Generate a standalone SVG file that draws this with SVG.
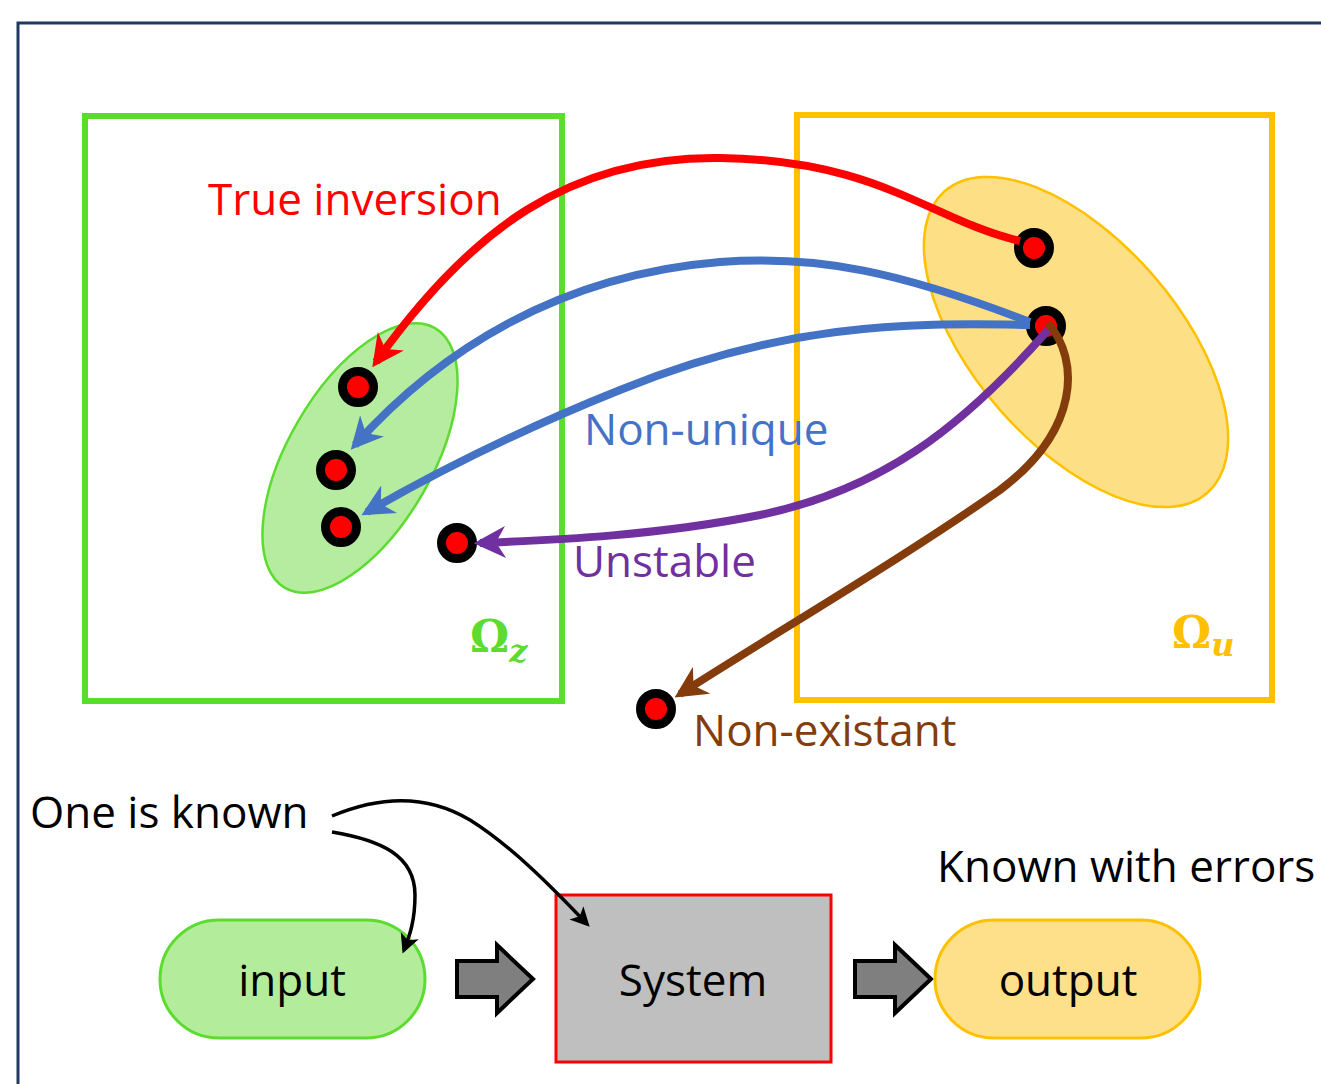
<svg xmlns="http://www.w3.org/2000/svg" width="1321" height="1084" viewBox="0 0 1321 1084">
<style>
text{font-family:"Open Sans","Liberation Sans",sans-serif}
.dot{fill:#ff0000;stroke:#000;stroke-width:9}
.lbl{font-size:44px}
.omega{font-family:"DejaVu Serif","Liberation Serif",serif;font-weight:bold;font-size:44px}
.bk{fill:none;stroke:#000;stroke-width:3.5}
</style>
<defs>
<marker id="ar" viewBox="0 0 10 10" refX="8" refY="5" markerWidth="4" markerHeight="4" orient="auto" markerUnits="strokeWidth"><path d="M0,0 L10,5 L0,10 L3,5 z" fill="context-stroke"/></marker>
<marker id="ab" viewBox="0 0 10 10" refX="8" refY="5" markerWidth="5.5" markerHeight="5.5" orient="auto" markerUnits="strokeWidth"><path d="M0,0 L10,5 L0,10 L2.5,5 z" fill="#000"/></marker>
</defs>
<rect x="18" y="23" width="1320" height="1100" fill="none" stroke="#1f3864" stroke-width="3"/>
<g id="omega-z">
<rect x="85" y="116" width="477" height="585" fill="none" stroke="#5bdc2f" stroke-width="6"/>
<ellipse cx="360" cy="458" rx="150" ry="72" transform="rotate(-60 360 458)" fill="#b6eca0" stroke="#5bdc2f" stroke-width="2.5"/>
<text class="omega" x="470" y="652" fill="#5bdc2f">Ω<tspan font-style="italic" font-size="32" dy="10">z</tspan></text>
</g>
<g id="omega-u">
<rect x="797" y="115" width="475" height="585" fill="none" stroke="#ffc000" stroke-width="6"/>
<ellipse cx="1076" cy="342" rx="200" ry="102" transform="rotate(49 1076 342)" fill="#fde085" stroke="#ffc000" stroke-width="2.5"/>
<text class="omega" x="1172" y="648" fill="#ffc000">Ω<tspan font-style="italic" font-size="32" dy="8">u</tspan></text>
</g>
<g id="dots">
<circle class="dot" cx="358" cy="387" r="15.5"/>
<circle class="dot" cx="336" cy="470" r="15.5"/>
<circle class="dot" cx="341" cy="527" r="15.5"/>
<circle class="dot" cx="457" cy="543" r="15.5"/>
<circle class="dot" cx="1034" cy="248" r="15.5"/>
<circle class="dot" cx="1046" cy="326" r="15.5"/>
<circle class="dot" cx="656" cy="709" r="15.5"/>
</g>
<g id="labels" class="lbl">
<text x="208" y="215" fill="#ff0000">True inversion</text>
<text x="584" y="445" fill="#4472c4">Non-unique</text>
<text x="573" y="577" fill="#7030a0">Unstable</text>
<text x="693" y="746" fill="#843c0c">Non-existant</text>
<text x="30" y="828" fill="#000">One is known</text>
<text x="937" y="882" fill="#000">Known with errors</text>
</g>
<g id="input">
<rect x="160" y="920" width="265" height="118" rx="59" fill="#b3ec9b" stroke="#5bdc2f" stroke-width="3"/>
<text x="292" y="996" class="lbl" text-anchor="middle">input</text>
</g>
<g id="arrow1"><path d="M457,961 H497 V945 L533,979 L497,1013 V997 H457 Z" fill="#7f7f7f" stroke="#000" stroke-width="4"/></g>
<g id="system">
<rect x="556" y="895" width="275" height="167" fill="#bfbfbf" stroke="#ff0000" stroke-width="3"/>
<text x="693" y="996" class="lbl" text-anchor="middle">System</text>
</g>
<g id="arrow2"><path d="M855,961 H895 V945 L931,979 L895,1013 V997 H855 Z" fill="#7f7f7f" stroke="#000" stroke-width="4"/></g>
<g id="output">
<rect x="935" y="920" width="265" height="118" rx="59" fill="#ffe08a" stroke="#ffc000" stroke-width="3"/>
<text x="1068" y="996" class="lbl" text-anchor="middle">output</text>
</g>
<g id="connectors" fill="none" stroke-width="8">
<path d="M1020,241 C930,220 880,160 720,158 C570,156 470,230 376,362" stroke="#ff0000" marker-end="url(#ar)"/>
<path d="M1030,322 C900,272 820,255 720,262 C560,275 440,350 355,445" stroke="#4472c4" marker-end="url(#ar)"/>
<path d="M1030,325 C900,322 780,325 620,390 C520,430 440,470 367,512" stroke="#4472c4" marker-end="url(#ar)"/>
<path d="M1048,330 C960,430 880,490 760,515 C660,535 560,540 480,543" stroke="#7030a0" marker-end="url(#ar)"/>
<path d="M1048,323 C1080,360 1080,430 1000,490 C900,560 780,630 680,694" stroke="#843c0c" marker-end="url(#ar)"/>
<path class="bk" d="M332,816 C370,800 420,790 470,820 C510,845 550,885 587,924" marker-end="url(#ab)"/>
<path class="bk" d="M332,832 C380,840 415,855 415,895 C415,920 410,935 404,950" marker-end="url(#ab)"/>
</g>
</svg>
